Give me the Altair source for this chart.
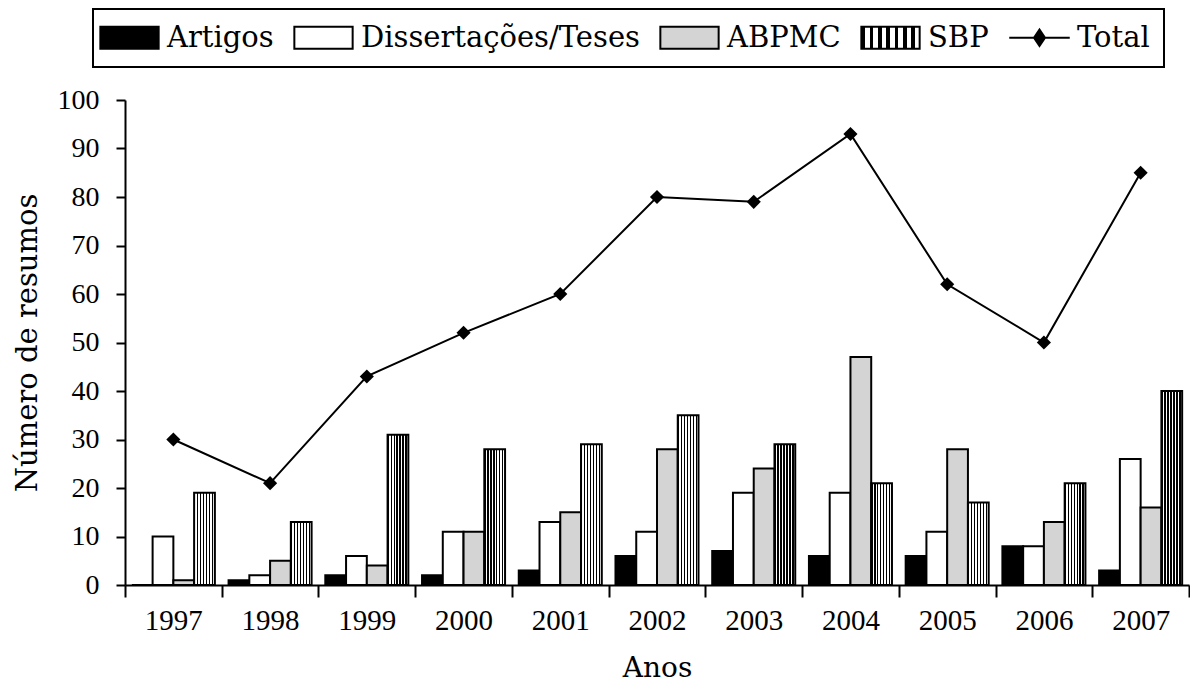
import altair as alt
import pandas as pd

years = ["1997", "1998", "1999", "2000", "2001", "2002", "2003", "2004", "2005", "2006", "2007"]
series_names = ["Artigos", "Dissertações/Teses", "ABPMC", "SBP"]
artigos = [0, 1, 2, 2, 3, 6, 7, 6, 6, 8, 3]
dissertacoes = [10, 2, 6, 11, 13, 11, 19, 19, 11, 8, 26]
abpmc = [1, 5, 4, 11, 15, 28, 24, 47, 28, 13, 16]
sbp = [19, 13, 31, 28, 29, 35, 29, 21, 17, 21, 40]
total = [30, 21, 43, 52, 60, 80, 79, 93, 62, 50, 85]
y_ticks = [0, 10, 20, 30, 40, 50, 60, 70, 80, 90, 100]

rows = []
for i, yr in enumerate(years):
    for name, vals in zip(series_names, [artigos, dissertacoes, abpmc, sbp]):
        rows.append({"Ano": yr, "Serie": name, "Valor": vals[i]})
bars_df = pd.DataFrame(rows)
total_df = pd.DataFrame({"Ano": years, "Serie": ["Total"] * len(years), "Valor": total})

legend_domain = series_names + ["Total"]

# striped (hatch-like) gradient for SBP
n = 7
stops = []
for k in range(n):
    a = k / n
    b = (k + 0.45) / n
    c = (k + 1) / n
    stops += [f"{{offset:{a:.4f},color:'#000'}}", f"{{offset:{b:.4f},color:'#000'}}",
              f"{{offset:{b:.4f},color:'#fff'}}", f"{{offset:{c:.4f},color:'#fff'}}"]
hatch = {"expr": "{gradient:'linear',x1:0,y1:0,x2:1,y2:0,stops:[" + ",".join(stops) + "]}"}

box_path = "M-2.65,-1H2.65V1H-2.65Z"
total_path = "M-2.75,0H2.75M0,-0.75L0.5,0L0,0.75L-0.5,0Z"

fill_scale = alt.Scale(domain=legend_domain,
                       range=["#000000", "#ffffff", "#d4d4d4", hatch, "#000000"])

x_enc = alt.X("Ano:N", sort=years,
              scale=alt.Scale(paddingInner=0, paddingOuter=0),
              axis=alt.Axis(title="Anos", labelAngle=0, tickBand="extent",
                            domainColor="black", domainWidth=2,
                            tickColor="black", tickWidth=2, tickSize=12,
                            labelFont="Liberation Serif", labelFontSize=29,
                            labelColor="black", labelPadding=9,
                            titleFont="DejaVu Serif", titleFontSize=28,
                            titleFontWeight="normal", titleColor="black",
                            titlePadding=19))
y_enc = alt.Y("Valor:Q", scale=alt.Scale(domain=[0, 100]),
              axis=alt.Axis(title="Número de resumos", values=y_ticks, grid=False,
                            domainColor="black", domainWidth=2,
                            tickColor="black", tickWidth=2, tickSize=9,
                            labelFont="Liberation Serif", labelFontSize=28,
                            labelColor="black", labelPadding=17,
                            titleFont="DejaVu Serif", titleFontSize=29,
                            titleFontWeight="normal", titleColor="black",
                            titlePadding=15))

bars = alt.Chart(bars_df).mark_bar(stroke="black", strokeWidth=2).encode(
    x=x_enc,
    xOffset=alt.XOffset("Serie:N", sort=series_names,
                        scale=alt.Scale(paddingInner=0, paddingOuter=0.33)),
    y=y_enc,
    fill=alt.Fill("Serie:N", scale=fill_scale,
                  legend=alt.Legend(
                      title=None, orient="none", direction="horizontal", columns=5,
                      legendX=-32, legendY=-91,
                      symbolType={"expr": f"datum.value === 'Total' ? '{total_path}' : '{box_path}'"},
                      symbolSize=484, symbolStrokeColor="black", symbolStrokeWidth=2,
                      symbolOffset=8,
                      labelFont="DejaVu Serif", labelFontSize=29, labelColor="black",
                      labelLimit=400, labelOffset=23, columnPadding=16,
                      padding=14, strokeColor="black")),
)

line = alt.Chart(total_df).mark_line(color="black", strokeWidth=2).encode(
    x=alt.X("Ano:N", sort=years), y="Valor:Q")
points = alt.Chart(total_df).mark_point(shape="diamond", filled=True, color="black",
                                        size=200, opacity=1).encode(
    x=alt.X("Ano:N", sort=years), y="Valor:Q")

chart = alt.layer(bars, line, points).properties(
    width=1064, height=485,
    padding={"left": 5, "top": 0, "right": 0, "bottom": 0},
    background="white",
).configure_view(stroke=None).configure_legend(strokeWidth=2)

chart.save("out.html", embed_options={"renderer": "svg", "actions": False})
